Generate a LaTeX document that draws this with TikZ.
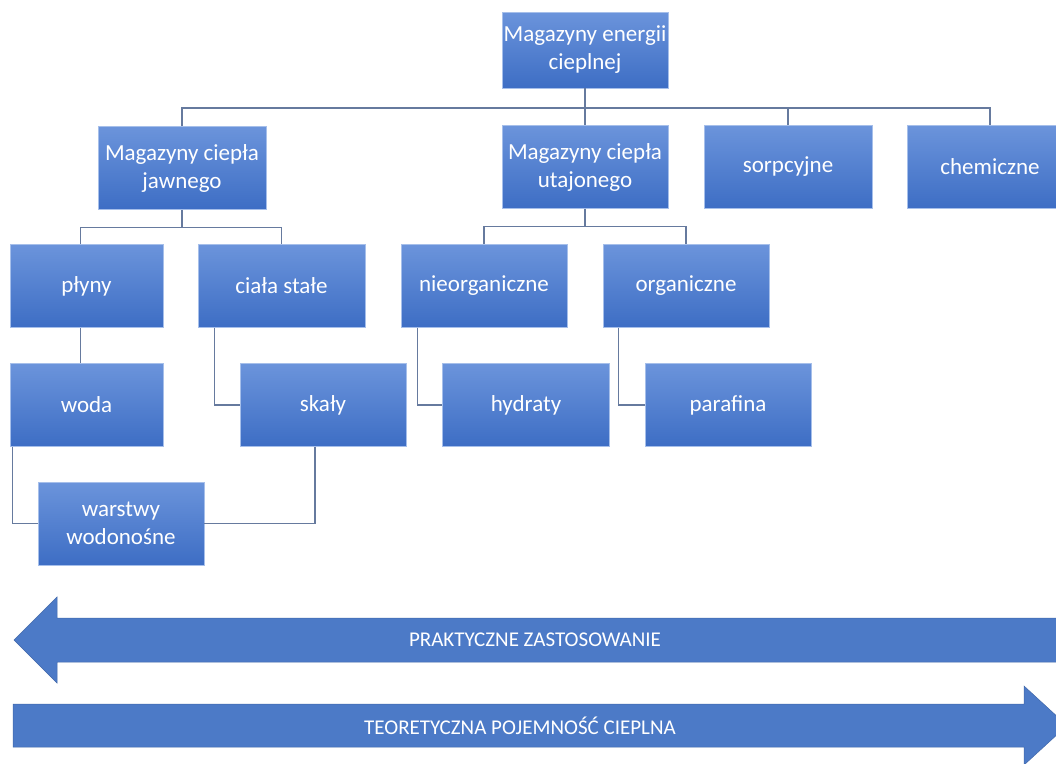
\documentclass[tikz,border=0pt]{standalone}
\usepackage{fontspec}
\setmainfont{Carlito}
\usepackage{xcolor}
\definecolor{boxtop}{rgb}{0.42,0.58,0.86}
\definecolor{boxbot}{rgb}{0.24,0.43,0.77}
\definecolor{arrcol}{rgb}{0.30,0.48,0.78}
\definecolor{linecol}{rgb}{0.40,0.48,0.62}

\begin{document}
\begin{tikzpicture}[x=1pt,y=-1pt,
		boite/.style={rectangle, top color=boxtop, bottom color=boxbot, draw=boxtop!60!white, line width=0.6pt,
			text=white, align=center, font=\fontsize{23}{28}\selectfont,
			minimum width=166pt, minimum height=83pt, inner sep=0pt},
		lien/.style={draw=linecol, line width=1.3pt},
		bande/.style={fill=arrcol, draw=arrcol!85!black, line width=0.5pt},
		texte bande/.style={text=white, font=\fontsize{21}{24}\selectfont}]
	
	% Cadre de la page
	\clip (0,0) rectangle (1056,763);
	
	% Racine
	\node[boite, minimum height=76pt] (mag) at (585,50) {Magazyny energii\\cieplnej};
	
	% Premier niveau
	\node[boite, minimum width=168pt] (jaw) at (182,168) {Magazyny ciepła\\jawnego};
	\node[boite] (utaj) at (585,167) {Magazyny ciepła\\utajonego};
	\node[boite, minimum width=168pt] (sorp) at (788,167) {sorpcyjne};
	\node[boite] (chem) at (990,167) {chemiczne};
	
	% Deuxième niveau
	\node[boite, minimum width=153pt] (plyny) at (86.5,286) {płyny};
	\node[boite, minimum width=167pt] (cial) at (281.5,286) {ciała stałe};
	\node[boite] (nieorg) at (484,286) {nieorganiczne};
	\node[boite] (org) at (686,286) {organiczne};
	
	% Troisième niveau
	\node[boite, minimum width=153pt] (woda) at (86.5,405) {woda};
	\node[boite] (skaly) at (323,405) {skały};
	\node[boite, minimum width=167pt] (hydr) at (526,405) {hydraty};
	\node[boite] (paraf) at (728,405) {parafina};
	\node[boite] (warst) at (121,523.5) {warstwy\\wodonośne};
	
	% Liaisons racine -> premier niveau
	\coordinate (bus) at (585,108);
	\draw[lien] (mag.south) -- (utaj.north);
	\draw[lien] (jaw.north) |- (bus) -| (chem.north);
	\draw[lien] (sorp.north) -- (sorp.north |- bus);
	
	% Liaisons premier -> deuxième niveau
	\draw[lien] (jaw.south) -- ++(0,18);
	\draw[lien] ([xshift=-6pt]plyny.north) -- ++(0,-17) -| (cial.north);
	\draw[lien] (utaj.south) -- ++(0,18);
	\draw[lien] (nieorg.north) -- ++(0,-18) -| (org.north);
	
	% Liaisons vers le troisième niveau
	\draw[lien] ([xshift=-6pt]plyny.south) -- ([xshift=-6pt]woda.north);
	\draw[lien] ([xshift=17pt]cial.south west) |- (skaly.west);
	\draw[lien] ([xshift=17pt]nieorg.south west) |- (hydr.west);
	\draw[lien] ([xshift=16pt]org.south west) |- (paraf.west);
	\draw[lien] ([xshift=3pt]woda.south west) |- (warst.west);
	\draw[lien] ([xshift=-8pt]skaly.south) |- (warst.east);
	
	% Flèches en bas
	\path[bande] (14,640) -- (57,597) -- (57,618) -- (1070,618) -- (1070,662) -- (57,662) -- (57,683) -- cycle;
	\node[texte bande] (prak) at (535,640) {PRAKTYCZNE ZASTOSOWANIE};
	
	\path[bande] (13,704) -- (1024,704) -- (1024,686) -- (1067,725.5) -- (1024,765) -- (1024,747) -- (13,747) -- cycle;
	\node[texte bande] (teor) at (520,725.5) {TEORETYCZNA POJEMNOŚĆ CIEPLNA};
	
\end{tikzpicture}
\end{document}
